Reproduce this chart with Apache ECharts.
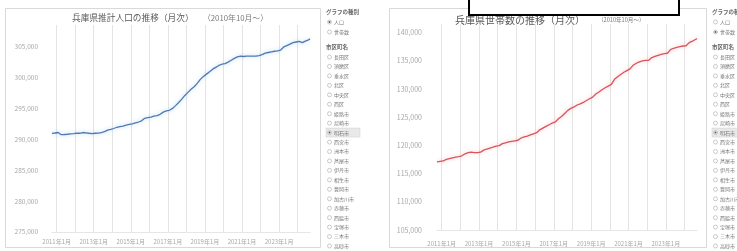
<!DOCTYPE html>
<html lang="ja">
<head>
<meta charset="UTF-8">
<title>兵庫県 推計人口・世帯数の推移</title>
<script src="https://cdn.jsdelivr.net/npm/echarts@6/dist/echarts.min.js"></script>
<style>
  html, body { margin: 0; padding: 0; background: #fff; }
  #chart { width: 737px; height: 251px; }
</style>
</head>
<body>
<div id="chart"></div>
<script>
// 明石市 推計人口（月次, 2010年10月～2024年9月）
var population = [
  290959, 290980, 291020,
  291050, 291100, 291020, 290750, 290700, 290780, 290800, 290820, 290850, 290880, 290900, 290920,
  290950, 291000, 290900, 290980, 291050, 291100, 291080, 291050, 291020, 290980, 290950, 290920,
  290950, 290980, 290900, 291000, 291050, 291100, 291150, 291250, 291400, 291500, 291550, 291600,
  291700, 291750, 291700, 291950, 292000, 292050, 292100, 292150, 292200, 292300, 292350, 292400,
  292450, 292500, 292450, 292650, 292700, 292800, 292900, 293000, 293100, 293400, 293450, 293500,
  293550, 293600, 293500, 293750, 293800, 293850, 293950, 294050, 294200, 294400, 294500, 294600,
  294650, 294700, 294650, 295000, 295200, 295450, 295700, 295950, 296250, 296500, 296800, 297100,
  297400, 297600, 297700, 298100, 298300, 298500, 298800, 299050, 299350, 299700, 299950, 300150,
  300350, 300550, 300600, 300950, 301150, 301350, 301500, 301650, 301800, 301950, 302050, 302150,
  302200, 302250, 302150, 302500, 302650, 302800, 302950, 303100, 303200, 303350, 303400, 303450,
  303450, 303400, 303300, 303450, 303500, 303450, 303500, 303450, 303400, 303450, 303500, 303550,
  303600, 303700, 303650, 303950, 304000, 304050, 304100, 304150, 304200, 304250, 304250, 304300,
  304350, 304450, 304500, 304950, 305050, 305150, 305300, 305400, 305550, 305650, 305700, 305750,
  305800, 305850, 305750, 305650, 305750, 305900, 306000, 306100, 306250
];
// 明石市 世帯数（月次, 同期間）
var households = [
  117070, 117120, 117150,
  117180, 117230, 117250, 117500, 117600, 117650, 117720, 117780, 117850, 117900, 117950, 118000,
  118100, 118150, 118200, 118500, 118600, 118700, 118850, 118800, 118750, 118720, 118700, 118720,
  118750, 118780, 118800, 119150, 119250, 119350, 119440, 119520, 119600, 119680, 119750, 119850,
  119900, 119950, 120000, 120300, 120380, 120450, 120520, 120600, 120650, 120700, 120750, 120800,
  120850, 120900, 120950, 121300, 121400, 121500, 121580, 121650, 121750, 121850, 121950, 122050,
  122150, 122250, 122350, 122750, 122900, 123050, 123200, 123350, 123500, 123650, 123800, 123950,
  124050, 124150, 124250, 124700, 124850, 125100, 125350, 125650, 125950, 126200, 126400, 126550,
  126700, 126800, 126900, 127150, 127250, 127350, 127500, 127600, 127750, 127950, 128100, 128250,
  128400, 128550, 128650, 129100, 129250, 129450, 129650, 129850, 130050, 130200, 130350, 130500,
  130650, 130800, 130950, 131700, 131950, 132150, 132350, 132550, 132750, 132950, 133100, 133250,
  133400, 133550, 133700, 134200, 134400, 134550, 134700, 134800, 134900, 134950, 135000, 135050,
  135050, 135080, 135100, 135550, 135650, 135750, 135850, 135950, 136050, 136120, 136200, 136250,
  136300, 136320, 136350, 136950, 137100, 137200, 137280, 137350, 137420, 137500, 137550, 137600,
  137620, 137650, 137700, 138200, 138350, 138450, 138600, 138750, 138900
];
var xTickLabels = ['2011年1月', '2013年1月', '2015年1月', '2017年1月', '2019年1月', '2021年1月', '2023年1月'];
var kinds = ['人口', '世帯数'];
var cities = ['長田区', '須磨区', '垂水区', '北区', '中央区', '西区', '姫路市', '尼崎市', '明石市',
  '西宮市', '洲本市', '芦屋市', '伊丹市', '相生市', '豊岡市', '加古川市', '赤穂市', '西脇市',
  '宝塚市', '三木市', '高砂市'];
var selectedCity = '明石市';

var months = [];
for (var i = 0; i < population.length; i++) {
  var yy = 2010 + Math.floor((9 + i) / 12);
  var mm = (9 + i) % 12 + 1;
  months.push(yy + '年' + mm + '月');
}

var FONT = '"Noto Sans CJK JP", "Noto Sans", sans-serif';
var chart = echarts.init(document.getElementById('chart'));

function fmt(v) { return v.toLocaleString('en-US'); }

function xAxisFor(idx, margin) {
  return {
    type: 'category', gridIndex: idx, data: months, boundaryGap: false,
    axisLine: { show: true, lineStyle: { color: '#e6e6e6' } },
    axisTick: { show: false },
    axisLabel: {
      interval: function (i, v) { return xTickLabels.indexOf(v) >= 0; },
      fontSize: 6, color: '#a8a8a8', margin: margin, fontFamily: FONT
    },
    splitLine: {
      show: true,
      interval: function (i, v) { return /年1月$/.test(v); },
      lineStyle: { color: '#e4e4e4', width: 1 }
    }
  };
}

function yAxisFor(idx, min, max, size, margin) {
  return {
    type: 'value', gridIndex: idx, min: min, max: max, interval: 5000,
    splitLine: { show: false }, axisLine: { show: false }, axisTick: { show: false },
    axisLabel: { showMaxLabel: false, fontSize: size, color: '#a8a8a8', margin: margin, formatter: fmt, fontFamily: FONT }
  };
}

function txt(x, y, s, size, color, weight) {
  return { type: 'text', x: x, y: y, silent: true,
    style: { text: s, fontSize: size, fill: color || '#595959', fontFamily: FONT, fontWeight: weight || 'normal', verticalAlign: 'middle' } };
}

function radio(x, y, label, on) {
  var els = [
    { type: 'circle', shape: { cx: x + 2.5, cy: y, r: 2 }, silent: true,
      style: { fill: '#fff', stroke: '#a8a8a8', lineWidth: 0.6 } },
    txt(x + 7, y, label, 5, '#777')
  ];
  if (on) els.push({ type: 'circle', shape: { cx: x + 2.5, cy: y, r: 1 }, silent: true, style: { fill: '#555' } });
  return els;
}

function sidebar(x, kindIdx) {
  var els = [txt(x, 12, 'グラフの種別', 5.5, '#666', 'bold')];
  kinds.forEach(function (k, i) { els = els.concat(radio(x + 1, 22 + i * 10, k, i === kindIdx)); });
  els.push(txt(x, 47, '市区町名', 5.5, '#666', 'bold'));
  cities.forEach(function (c, i) {
    var y = 57 + i * 9.45;
    if (c === selectedCity) {
      els.push({ type: 'rect', shape: { x: x, y: y - 4.5, width: 34, height: 9 }, silent: true,
        style: { fill: '#e9e9e9', stroke: '#cfcfcf', lineWidth: 0.5 } });
    }
    els = els.concat(radio(x + 1, y, c, c === selectedCity));
  });
  return els;
}

var graphics = [
  { type: 'rect', shape: { x: 5.5, y: 8.5, width: 315, height: 239 }, z: -1, silent: true,
    style: { fill: 'none', stroke: '#d9d9d9', lineWidth: 1 } },
  { type: 'rect', shape: { x: 389.5, y: 8.5, width: 317, height: 239 }, z: -1, silent: true,
    style: { fill: 'none', stroke: '#d9d9d9', lineWidth: 1 } },
  txt(72, 18, '兵庫県推計人口の推移（月次）', 8.7, '#595959'),
  txt(203, 18, '（2010年10月～）', 7.8, '#7a7a7a'),
  txt(455, 20, '兵庫県世帯数の推移（月次）', 10, '#595959'),
  txt(598, 20, '（2010年10月～）', 5.6, '#7a7a7a'),
  { type: 'rect', shape: { x: 469, y: -5, width: 210, height: 20 }, z: 100, silent: true,
    style: { fill: '#fff', stroke: '#000', lineWidth: 2 } }
].concat(sidebar(326, 0)).concat(sidebar(712, 1));

chart.setOption({
  animation: false,
  backgroundColor: '#fff',
  textStyle: { fontFamily: FONT },
  grid: [
    { left: 52, right: 427, top: 25, bottom: 19, outerBoundsMode: 'none' },
    { left: 437, right: 40, top: 24, bottom: 21, outerBoundsMode: 'none' }
  ],
  xAxis: [xAxisFor(0, 7), xAxisFor(1, 11)],
  yAxis: [yAxisFor(0, 275000, 308500, 6.5, 14), yAxisFor(1, 105000, 141500, 7, 15)],
  series: [
    { type: 'line', xAxisIndex: 0, yAxisIndex: 0, data: population, showSymbol: false,
      lineStyle: { color: '#4f7ab0', width: 1.3, shadowColor: 'rgba(120,175,230,0.55)', shadowBlur: 4 } },
    { type: 'line', xAxisIndex: 1, yAxisIndex: 1, data: households, showSymbol: false,
      lineStyle: { color: '#d9535a', width: 1.3, shadowColor: 'rgba(240,140,150,0.55)', shadowBlur: 4 } }
  ],
  graphic: graphics
});
</script>
</body>
</html>
